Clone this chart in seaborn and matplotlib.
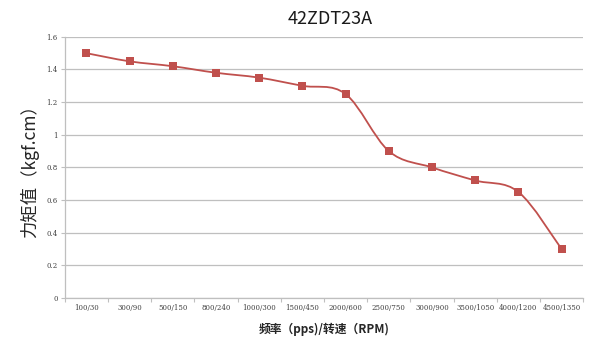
import numpy as np
import pandas as pd
import matplotlib
matplotlib.use("Agg")
import matplotlib.pyplot as plt
import seaborn as sns
from matplotlib.path import Path
from matplotlib.patches import PathPatch

# Dados
speeds = ['100/30', '300/90', '500/150', '800/240', '1000/300', '1500/450',
          '2000/600', '2500/750', '3000/900', '3500/1050', '4000/1200', '4500/1350']
torque = [1.5, 1.45, 1.42, 1.38, 1.35, 1.3, 1.25, 0.9, 0.8, 0.72, 0.65, 0.3]
y_ticks = [0, 0.2, 0.4, 0.6, 0.8, 1.0, 1.2, 1.4, 1.6]

sns.set_style('white')
plt.rcParams['font.family'] = ['Noto Sans CJK SC', 'DejaVu Sans']

line_color = '#C0504D'
grid_color = '#BFBFBF'

df = pd.DataFrame({'pos': np.arange(len(speeds)), 'torque': torque})

fig = plt.figure(figsize=(6, 3.51), dpi=100)
ax = fig.add_axes([0.108, 0.151, 0.864, 0.744])

# Curva suavizada (estilo Excel) com Bezier cúbica
xs = df['pos'].values.astype(float)
ys = df['torque'].values
verts = [(xs[0], ys[0])]
codes = [Path.MOVETO]
n = len(xs)
for i in range(n - 1):
    p0 = (xs[max(i - 1, 0)], ys[max(i - 1, 0)])
    p1 = (xs[i], ys[i])
    p2 = (xs[i + 1], ys[i + 1])
    p3 = (xs[min(i + 2, n - 1)], ys[min(i + 2, n - 1)])
    c1 = (p1[0] + (p2[0] - p0[0]) / 6, p1[1] + (p2[1] - p0[1]) / 6)
    c2 = (p2[0] - (p3[0] - p1[0]) / 6, p2[1] - (p3[1] - p1[1]) / 6)
    verts += [c1, c2, p2]
    codes += [Path.CURVE4] * 3
ax.add_patch(PathPatch(Path(verts, codes), facecolor='none', edgecolor=line_color, lw=1.3, zorder=3))

sns.scatterplot(data=df, x='pos', y='torque', marker='s', s=26, color=line_color,
                edgecolor=line_color, linewidth=0, ax=ax, zorder=4)

ax.set_xlim(-0.5, len(speeds) - 0.5)
ax.set_ylim(0, 1.6)
ax.set_yticks(y_ticks)
ax.set_yticklabels(['0' if v == 0 else ('%g' % v) for v in y_ticks],
                   fontsize=5, family='DejaVu Serif', color='#404040')
ax.yaxis.grid(True, color=grid_color, lw=0.9)
ax.set_axisbelow(True)

# Marcas nos limites das categorias, rótulos no centro
ax.set_xticks(np.arange(-0.5, len(speeds), 1))
ax.set_xticklabels([])
ax.set_xticks(np.arange(len(speeds)), minor=True)
ax.set_xticklabels(speeds, minor=True, fontsize=5, family='DejaVu Serif', color='#404040')
ax.tick_params(axis='x', which='major', length=3, width=0.8, color=grid_color, direction='out', bottom=True)
ax.tick_params(axis='x', which='minor', length=0, pad=4)
ax.tick_params(axis='y', length=3, width=0.8, color=grid_color, left=True, pad=2)

for s in ['top', 'right']:
    ax.spines[s].set_visible(False)
for s in ['left', 'bottom']:
    ax.spines[s].set_color(grid_color)
    ax.spines[s].set_linewidth(0.9)

ax.set_xlabel('频率（pps)/转速（RPM)', fontsize=8.5, fontweight='bold')
ax.xaxis.set_label_coords(0.5, -0.093)
ax.set_ylabel('力矩值（kgf.cm）', fontsize=12.5)
ax.yaxis.set_label_coords(-0.05, 0.5)
fig.text(0.55, 0.945, '42ZDT23A', ha='center', va='center', fontsize=13, color='#1a1a1a')

fig.savefig('out.png', dpi=100)
